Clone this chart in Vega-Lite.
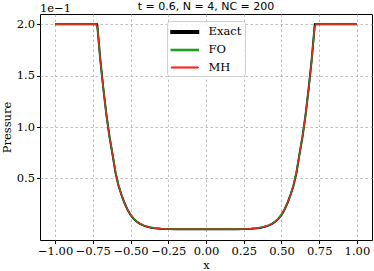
{
  "$schema": "https://vega.github.io/schema/vega-lite/v6.json",
  "width": 332,
  "height": 226,
  "autosize": {"type": "none"},
  "padding": {"left": 40, "top": 14, "right": 2, "bottom": 31},
  "background": "white",
  "config": {
    "view": {"stroke": "black", "strokeWidth": 1},
    "font": "DejaVu Serif",
    "axis": {
      "labelFont": "DejaVu Serif", "labelFontSize": 11.5, "labelColor": "black",
      "titleFont": "DejaVu Serif", "titleFontSize": 11.5, "titleColor": "black", "titleFontWeight": "normal",
      "domain": false, "tickColor": "black", "tickSize": 3.5,
      "gridColor": "#b0b0b0", "gridDash": [2.5, 2.5], "gridWidth": 0.8
    }
  },
  "layer": [
    {
      "data": {"values": [
        {"x": -1.0, "p": 0.2, "s": "Exact"}, {"x": -0.721, "p": 0.2, "s": "Exact"},
        {"x": -0.70, "p": 0.165, "s": "Exact"}, {"x": -0.68, "p": 0.137, "s": "Exact"},
        {"x": -0.66, "p": 0.112, "s": "Exact"}, {"x": -0.64, "p": 0.091, "s": "Exact"},
        {"x": -0.62, "p": 0.074, "s": "Exact"}, {"x": -0.60, "p": 0.056, "s": "Exact"},
        {"x": -0.58, "p": 0.043, "s": "Exact"}, {"x": -0.56, "p": 0.034, "s": "Exact"},
        {"x": -0.54, "p": 0.026, "s": "Exact"}, {"x": -0.52, "p": 0.0195, "s": "Exact"},
        {"x": -0.50, "p": 0.0145, "s": "Exact"}, {"x": -0.48, "p": 0.0108, "s": "Exact"},
        {"x": -0.46, "p": 0.008, "s": "Exact"}, {"x": -0.44, "p": 0.006, "s": "Exact"},
        {"x": -0.42, "p": 0.0044, "s": "Exact"}, {"x": -0.40, "p": 0.0033, "s": "Exact"},
        {"x": -0.37, "p": 0.0022, "s": "Exact"}, {"x": -0.34, "p": 0.0014, "s": "Exact"},
        {"x": -0.30, "p": 0.0009, "s": "Exact"}, {"x": -0.25, "p": 0.0006, "s": "Exact"},
        {"x": -0.20, "p": 0.0005, "s": "Exact"}, {"x": 0.0, "p": 0.0005, "s": "Exact"},
        {"x": 0.20, "p": 0.0005, "s": "Exact"}, {"x": 0.25, "p": 0.0006, "s": "Exact"},
        {"x": 0.30, "p": 0.0009, "s": "Exact"}, {"x": 0.34, "p": 0.0014, "s": "Exact"},
        {"x": 0.37, "p": 0.0022, "s": "Exact"}, {"x": 0.40, "p": 0.0033, "s": "Exact"},
        {"x": 0.42, "p": 0.0044, "s": "Exact"}, {"x": 0.44, "p": 0.006, "s": "Exact"},
        {"x": 0.46, "p": 0.008, "s": "Exact"}, {"x": 0.48, "p": 0.0108, "s": "Exact"},
        {"x": 0.50, "p": 0.0145, "s": "Exact"}, {"x": 0.52, "p": 0.0195, "s": "Exact"},
        {"x": 0.54, "p": 0.026, "s": "Exact"}, {"x": 0.56, "p": 0.034, "s": "Exact"},
        {"x": 0.58, "p": 0.043, "s": "Exact"}, {"x": 0.60, "p": 0.056, "s": "Exact"},
        {"x": 0.62, "p": 0.074, "s": "Exact"}, {"x": 0.64, "p": 0.091, "s": "Exact"},
        {"x": 0.66, "p": 0.112, "s": "Exact"}, {"x": 0.68, "p": 0.137, "s": "Exact"},
        {"x": 0.70, "p": 0.165, "s": "Exact"}, {"x": 0.721, "p": 0.2, "s": "Exact"},
        {"x": 1.0, "p": 0.2, "s": "Exact"},

        {"x": -1.0, "p": 0.2, "s": "FO"}, {"x": -0.73, "p": 0.2, "s": "FO"},
        {"x": -0.72, "p": 0.197, "s": "FO"}, {"x": -0.71, "p": 0.182, "s": "FO"},
        {"x": -0.70, "p": 0.164, "s": "FO"}, {"x": -0.68, "p": 0.137, "s": "FO"},
        {"x": -0.66, "p": 0.112, "s": "FO"}, {"x": -0.64, "p": 0.091, "s": "FO"},
        {"x": -0.62, "p": 0.074, "s": "FO"}, {"x": -0.60, "p": 0.057, "s": "FO"},
        {"x": -0.58, "p": 0.044, "s": "FO"}, {"x": -0.56, "p": 0.034, "s": "FO"},
        {"x": -0.54, "p": 0.026, "s": "FO"}, {"x": -0.52, "p": 0.0198, "s": "FO"},
        {"x": -0.50, "p": 0.0148, "s": "FO"}, {"x": -0.48, "p": 0.011, "s": "FO"},
        {"x": -0.46, "p": 0.0083, "s": "FO"}, {"x": -0.44, "p": 0.0063, "s": "FO"},
        {"x": -0.42, "p": 0.0047, "s": "FO"}, {"x": -0.40, "p": 0.0035, "s": "FO"},
        {"x": -0.37, "p": 0.0024, "s": "FO"}, {"x": -0.34, "p": 0.0016, "s": "FO"},
        {"x": -0.30, "p": 0.0011, "s": "FO"}, {"x": -0.25, "p": 0.0008, "s": "FO"},
        {"x": -0.20, "p": 0.0007, "s": "FO"}, {"x": 0.0, "p": 0.0007, "s": "FO"},
        {"x": 0.20, "p": 0.0007, "s": "FO"}, {"x": 0.25, "p": 0.0008, "s": "FO"},
        {"x": 0.30, "p": 0.0011, "s": "FO"}, {"x": 0.34, "p": 0.0016, "s": "FO"},
        {"x": 0.37, "p": 0.0024, "s": "FO"}, {"x": 0.40, "p": 0.0035, "s": "FO"},
        {"x": 0.42, "p": 0.0047, "s": "FO"}, {"x": 0.44, "p": 0.0063, "s": "FO"},
        {"x": 0.46, "p": 0.0083, "s": "FO"}, {"x": 0.48, "p": 0.011, "s": "FO"},
        {"x": 0.50, "p": 0.0148, "s": "FO"}, {"x": 0.52, "p": 0.0198, "s": "FO"},
        {"x": 0.54, "p": 0.026, "s": "FO"}, {"x": 0.56, "p": 0.034, "s": "FO"},
        {"x": 0.58, "p": 0.044, "s": "FO"}, {"x": 0.60, "p": 0.057, "s": "FO"},
        {"x": 0.62, "p": 0.074, "s": "FO"}, {"x": 0.64, "p": 0.091, "s": "FO"},
        {"x": 0.66, "p": 0.112, "s": "FO"}, {"x": 0.68, "p": 0.137, "s": "FO"},
        {"x": 0.70, "p": 0.164, "s": "FO"}, {"x": 0.71, "p": 0.182, "s": "FO"},
        {"x": 0.72, "p": 0.197, "s": "FO"}, {"x": 0.73, "p": 0.2, "s": "FO"},
        {"x": 1.0, "p": 0.2, "s": "FO"},

        {"x": -1.0, "p": 0.2, "s": "MH"}, {"x": -0.726, "p": 0.2, "s": "MH"},
        {"x": -0.718, "p": 0.195, "s": "MH"}, {"x": -0.71, "p": 0.181, "s": "MH"},
        {"x": -0.70, "p": 0.165, "s": "MH"}, {"x": -0.68, "p": 0.137, "s": "MH"},
        {"x": -0.66, "p": 0.112, "s": "MH"}, {"x": -0.64, "p": 0.091, "s": "MH"},
        {"x": -0.62, "p": 0.074, "s": "MH"}, {"x": -0.60, "p": 0.056, "s": "MH"},
        {"x": -0.58, "p": 0.043, "s": "MH"}, {"x": -0.56, "p": 0.034, "s": "MH"},
        {"x": -0.54, "p": 0.026, "s": "MH"}, {"x": -0.52, "p": 0.0196, "s": "MH"},
        {"x": -0.50, "p": 0.0146, "s": "MH"}, {"x": -0.48, "p": 0.0109, "s": "MH"},
        {"x": -0.46, "p": 0.0081, "s": "MH"}, {"x": -0.44, "p": 0.0061, "s": "MH"},
        {"x": -0.42, "p": 0.0045, "s": "MH"}, {"x": -0.40, "p": 0.0034, "s": "MH"},
        {"x": -0.37, "p": 0.0023, "s": "MH"}, {"x": -0.34, "p": 0.0015, "s": "MH"},
        {"x": -0.30, "p": 0.001, "s": "MH"}, {"x": -0.25, "p": 0.0007, "s": "MH"},
        {"x": -0.20, "p": 0.0006, "s": "MH"}, {"x": 0.0, "p": 0.0006, "s": "MH"},
        {"x": 0.20, "p": 0.0006, "s": "MH"}, {"x": 0.25, "p": 0.0007, "s": "MH"},
        {"x": 0.30, "p": 0.001, "s": "MH"}, {"x": 0.34, "p": 0.0015, "s": "MH"},
        {"x": 0.37, "p": 0.0023, "s": "MH"}, {"x": 0.40, "p": 0.0034, "s": "MH"},
        {"x": 0.42, "p": 0.0045, "s": "MH"}, {"x": 0.44, "p": 0.0061, "s": "MH"},
        {"x": 0.46, "p": 0.0081, "s": "MH"}, {"x": 0.48, "p": 0.0109, "s": "MH"},
        {"x": 0.50, "p": 0.0146, "s": "MH"}, {"x": 0.52, "p": 0.0196, "s": "MH"},
        {"x": 0.54, "p": 0.026, "s": "MH"}, {"x": 0.56, "p": 0.034, "s": "MH"},
        {"x": 0.58, "p": 0.043, "s": "MH"}, {"x": 0.60, "p": 0.056, "s": "MH"},
        {"x": 0.62, "p": 0.074, "s": "MH"}, {"x": 0.64, "p": 0.091, "s": "MH"},
        {"x": 0.66, "p": 0.112, "s": "MH"}, {"x": 0.68, "p": 0.137, "s": "MH"},
        {"x": 0.70, "p": 0.165, "s": "MH"}, {"x": 0.71, "p": 0.181, "s": "MH"},
        {"x": 0.718, "p": 0.195, "s": "MH"}, {"x": 0.726, "p": 0.2, "s": "MH"},
        {"x": 1.0, "p": 0.2, "s": "MH"}
      ]},
      "mark": {"type": "line", "clip": true},
      "encoding": {
        "x": {"field": "x", "type": "quantitative", "scale": {"domain": [-1.1, 1.1], "nice": false, "zero": false},
              "axis": {"values": [-1, -0.75, -0.5, -0.25, 0, 0.25, 0.5, 0.75, 1], "format": ".2f", "title": "x", "titlePadding": 2, "labelPadding": 2}},
        "y": {"field": "p", "type": "quantitative", "scale": {"domain": [-0.01, 0.21], "nice": false, "zero": false},
              "axis": {"values": [0.05, 0.1, 0.15, 0.2], "labelExpr": "format(datum.value * 10, '.1f')", "title": "Pressure", "titlePadding": 4, "labelPadding": 2}},
        "color": {"field": "s", "type": "nominal", "scale": {"domain": ["Exact", "FO", "MH"], "range": ["black", "#1f9e1f", "#ff1a1a"]},
                  "legend": {"title": null, "orient": "none", "legendX": 127, "legendY": 7, "symbolType": "M-1,-0.1H3V0.1H-1Z", "symbolSize": 182,
                             "labelFont": "DejaVu Serif", "labelFontSize": 11.5, "labelColor": "black", "rowPadding": 4.5,
                             "padding": 3, "fillColor": "rgba(255,255,255,0.85)", "strokeColor": "#d0d0d0", "cornerRadius": 3, "labelOffset": 22.5,
                             "encode": {"symbols": {"update": {
                               "shape": {"signal": "datum.value === 'Exact' ? 'M-1,-0.15H3V0.15H-1Z' : 'M-1,-0.08H3V0.08H-1Z'"},
                               "fill": {"signal": "datum.value === 'Exact' ? 'black' : datum.value === 'FO' ? '#1f9e1f' : '#ff4d4d'"},
                               "fillOpacity": {"value": 1},
                               "opacity": {"value": 1},
                               "strokeWidth": {"value": 0}}}}}},
        "strokeWidth": {"field": "s", "type": "nominal", "scale": {"domain": ["Exact", "FO", "MH"], "range": [2, 1, 1]}, "legend": null},
        "order": {"field": "x", "type": "quantitative"}
      }
    },
    {
      "data": {"values": [{"label": "1e−1"}]},
      "mark": {"type": "text", "align": "left", "baseline": "alphabetic", "font": "DejaVu Serif", "fontSize": 11.5, "fontWeight": "normal", "dy": -2.5},
      "encoding": {
        "x": {"datum": -1.1, "type": "quantitative"},
        "y": {"datum": 0.21, "type": "quantitative"},
        "text": {"field": "label"}
      }
    },
    {
      "data": {"values": [{"label": "t = 0.6, N = 4, NC = 200"}]},
      "mark": {"type": "text", "align": "center", "baseline": "alphabetic", "font": "DejaVu Sans", "fontSize": 11, "fontWeight": "normal", "dy": -4.5},
      "encoding": {
        "x": {"datum": 0, "type": "quantitative"},
        "y": {"datum": 0.21, "type": "quantitative"},
        "text": {"field": "label"}
      }
    }
  ]
}
